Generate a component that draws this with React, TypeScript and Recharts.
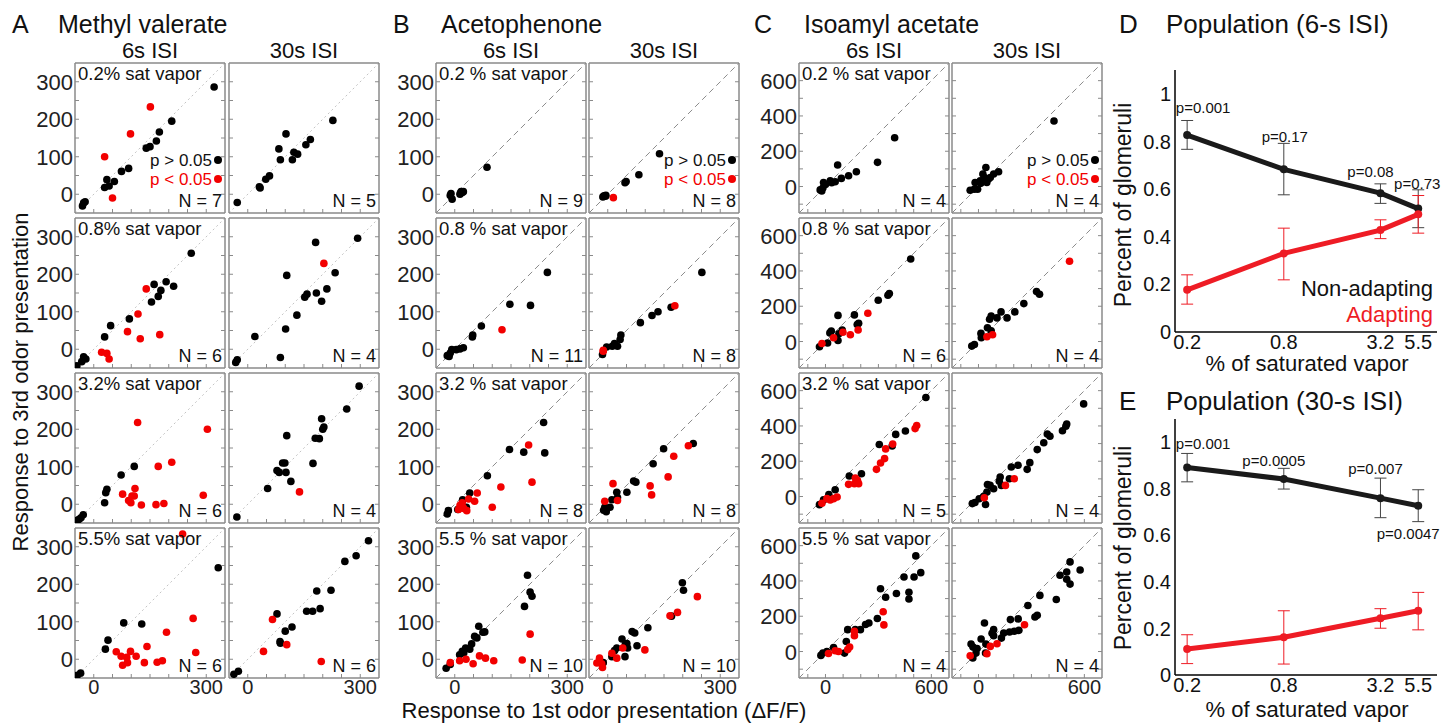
import React from 'react';
import { ScatterChart, Scatter, XAxis, YAxis, ReferenceLine, LineChart, Line, ErrorBar, LabelList } from 'recharts';

type Pt = [number, number];

const FONT = '"Liberation Sans", Arial, Helvetica, sans-serif';
const EDGE = '#8a8a8a';
const RED = '#f20000';
const LINE_RED = '#ee1c25';
const LINE_BLACK = '#1a1a1a';
const BOX = 150;

// ---------- A: Methyl valerate ----------
const mv6_02_ns: Pt[] = [[321, 286], [208, 195], [175, 166], [167, 142], [150, 127], [140, 123], [93, 69], [74, 61], [55, 34], [35, 39], [41, 22], [29, 18], [-23, -20], [-30, -31], [-27, -23]];
const mv6_02_sig: Pt[] = [[151, 233], [98, 161], [29, 100], [50, -10]];
const mv6_08_ns: Pt[] = [[260, 256], [161, 173], [193, 180], [213, 168], [179, 157], [172, 141], [154, 126], [95, 81], [45, 63], [29, 33], [-27, -20], [-21, -26], [-32, -33], [-45, -44]];
const mv6_08_sig: Pt[] = [[140, 161], [118, 94], [90, 47], [124, 28], [176, 39], [21, -8], [35, -11], [41, -26]];
const mv6_32_ns: Pt[] = [[108, 101], [73, 78], [35, 40], [32, 31], [29, 4], [-28, -28], [-34, -36], [-44, -43], [-39, -40]];
const mv6_32_sig: Pt[] = [[117, 218], [303, 200], [172, 101], [208, 112], [77, 27], [110, 42], [108, 22], [102, 22], [93, 10], [99, 4], [127, -2], [166, -1], [187, 2], [292, 24]];
const mv6_55_ns: Pt[] = [[332, 244], [80, 97], [128, 94], [38, 51], [31, 27], [-35, -37], [-44, -43], [-48, -44]];
const mv6_55_sig: Pt[] = [[237, 334], [265, 109], [194, 72], [142, 34], [60, 20], [73, 8], [98, 21], [113, 8], [88, 5], [90, -9], [77, -16], [135, -9], [169, -8], [183, -4], [272, 18]];

const mv30_02_ns: Pt[] = [[-28, -22], [31, 20], [33, 17], [48, 40], [58, 49], [83, 121], [102, 161], [87, 92], [119, 92], [123, 112], [133, 107], [155, 132], [167, 146], [227, 197]];
const mv30_02_sig: Pt[] = [];
const mv30_08_ns: Pt[] = [[293, 296], [181, 285], [233, 204], [211, 161], [183, 150], [197, 128], [158, 147], [152, 139], [104, 197], [131, 91], [101, 54], [87, -22], [19, 34], [-28, -28], [-32, -35]];
const mv30_08_sig: Pt[] = [[203, 229]];
const mv30_32_ns: Pt[] = [[297, 315], [264, 254], [197, 228], [203, 206], [200, 200], [191, 175], [180, 176], [104, 183], [174, 109], [99, 110], [93, 110], [78, 90], [84, 85], [102, 85], [115, 61], [53, 42], [-29, -34]];
const mv30_32_sig: Pt[] = [[138, 33]];
const mv30_55_ns: Pt[] = [[322, 316], [289, 276], [259, 261], [222, 184], [184, 182], [193, 135], [173, 128], [157, 128], [78, 121], [118, 86], [100, 75], [86, 47], [87, 43], [-25, -32], [-37, -40]];
const mv30_55_sig: Pt[] = [[66, 106], [104, 39], [42, 21], [196, -6]];

const mvSixN = [7, 6, 6, 6];
const mvThirtyN = [5, 4, 4, 6];

// ---------- B: Acetophenone ----------
const ap6_02_ns: Pt[] = [[86, 72], [-10, 2], [-7, -13], [17, 7], [23, 7], [14, 0], [15, 3], [-12, -3], [20, 5]];
const ap6_02_sig: Pt[] = [];
const ap6_08_ns: Pt[] = [[247, 205], [147, 120], [202, 117], [71, 62], [48, 38], [47, 33], [23, 4], [14, 1], [4, -1], [-8, -1], [-12, -10], [-20, -17], [-15, -19]];
const ap6_08_sig: Pt[] = [[126, 52]];
const ap6_32_ns: Pt[] = [[237, 218], [146, 146], [184, 139], [240, 137], [87, 76], [40, 30], [21, 12], [31, -8], [8, -14], [-17, -17], [-20, -26]];
const ap6_32_sig: Pt[] = [[197, 158], [206, 59], [123, 46], [60, 30], [53, 8], [37, 14], [100, -8], [20, 4], [14, -3], [10, -14], [32, -17], [24, -11]];
const ap6_55_ns: Pt[] = [[194, 224], [201, 179], [206, 168], [186, 141], [64, 88], [80, 73], [75, 72], [53, 61], [59, 57], [45, 41], [29, 30], [20, 21], [13, 12], [40, 27], [24, 17], [-12, -14], [-23, -24]];
const ap6_55_sig: Pt[] = [[201, 67], [66, 9], [82, 3], [30, 0], [104, -4], [180, -2], [49, -12], [13, -4], [-12, -9]];

const ap30_02_ns: Pt[] = [[138, 108], [83, 52], [49, 34], [-10, -4], [-5, -3], [-13, -7], [-6, -5], [46, 31]];
const ap30_02_sig: Pt[] = [[15, -9]];
const ap30_08_ns: Pt[] = [[251, 205], [169, 112], [134, 100], [118, 90], [87, 71], [35, 38], [33, 26], [18, 15], [26, 8], [12, 8], [-3, 6], [-14, -14]];
const ap30_08_sig: Pt[] = [[179, 116], [-12, -3], [-12, -5]];
const ap30_32_ns: Pt[] = [[228, 162], [149, 148], [121, 108], [69, 62], [75, 59], [51, 32], [24, 32], [11, 12], [26, 18], [6, -8], [-8, -8], [-4, -20], [-11, -16]];
const ap30_32_sig: Pt[] = [[215, 156], [176, 128], [161, 73], [113, 49], [117, 25], [14, 55], [26, 10], [-8, 8]];
const ap30_55_ns: Pt[] = [[199, 204], [202, 184], [170, 115], [107, 84], [65, 74], [72, 70], [78, 36], [38, 54], [51, 42], [47, 40], [53, 30], [18, 23], [24, 30], [46, 7], [11, 7], [-12, -9]];
const ap30_55_sig: Pt[] = [[239, 167], [186, 125], [166, 116], [99, 25], [40, 30], [11, 16], [24, 3], [-22, 3], [-29, -10], [-16, -12], [-14, -22]];

const apSixN = [9, 11, 8, 10];
const apThirtyN = [8, 8, 8, 10];

// ---------- C: Isoamyl acetate ----------
const ia6_02_ns: Pt[] = [[392, 276], [295, 137], [69, 122], [175, 84], [131, 61], [90, 46], [55, 27], [27, 33], [35, 22], [-11, 23], [0, 11], [-15, -9], [-30, -19], [-21, -25]];
const ia6_02_sig: Pt[] = [];
const ia6_08_ns: Pt[] = [[483, 468], [362, 272], [354, 262], [299, 234], [164, 151], [71, 148], [188, 103], [180, 96], [95, 65], [71, 6], [33, 59], [25, 49], [76, 44], [12, -8], [-34, -30]];
const ia6_08_sig: Pt[] = [[240, 160], [185, 65], [141, 38], [99, 53], [46, 21], [-20, -11]];
const ia6_32_ns: Pt[] = [[569, 561], [453, 371], [398, 352], [305, 295], [378, 287], [204, 129], [135, 116], [55, 38], [19, 11], [-11, -19], [-34, -46]];
const ia6_32_sig: Pt[] = [[517, 402], [508, 385], [381, 297], [341, 270], [335, 215], [312, 190], [289, 154], [169, 105], [181, 92], [188, 73], [164, 72], [131, 69], [66, -3], [46, -12], [27, -19], [8, -12], [-20, -38]];
const ia6_55_ns: Pt[] = [[512, 542], [540, 447], [502, 422], [445, 422], [473, 336], [473, 298], [402, 329], [312, 356], [341, 308], [294, 187], [246, 162], [227, 153], [198, 124], [169, 124], [126, 124], [118, 57], [108, -9], [46, 23], [8, 0], [-15, -9], [-26, -22]];
const ia6_55_sig: Pt[] = [[327, 225], [331, 151], [164, 115], [164, 90], [137, 25], [126, 11], [74, 0], [55, 4], [17, -11]];

const ia30_02_ns: Pt[] = [[428, 371], [42, 108], [25, 71], [34, 51], [86, 71], [114, 84], [57, 42], [10, 33], [-19, 23], [13, 18], [47, 23], [-5, -15], [-24, -15], [-47, -21], [67, 51]];
const ia30_02_sig: Pt[] = [];
const ia30_08_ns: Pt[] = [[329, 283], [346, 268], [257, 215], [206, 168], [128, 168], [162, 134], [105, 134], [72, 145], [63, 126], [51, 78], [72, 61], [14, 46], [16, 21], [-23, -17], [-38, -26]];
const ia30_08_sig: Pt[] = [[516, 455], [80, 38], [48, 27]];
const ia30_32_ns: Pt[] = [[596, 525], [500, 411], [495, 398], [476, 373], [405, 342], [390, 354], [370, 305], [333, 266], [291, 192], [276, 154], [224, 177], [186, 167], [175, 101], [123, 110], [118, 87], [130, 63], [86, 44], [51, 68], [66, 63], [48, 25], [29, 0], [4, -13], [40, -45], [-20, -34], [-35, -40]];
const ia30_32_sig: Pt[] = [[203, 101], [153, 63], [33, -7]];
const ia30_55_ns: Pt[] = [[519, 508], [576, 462], [500, 451], [462, 432], [500, 410], [519, 382], [441, 295], [348, 318], [333, 205], [320, 196], [280, 261], [225, 185], [181, 181], [229, 120], [203, 115], [176, 111], [143, 105], [130, 76], [86, 124], [77, 103], [34, 162], [86, 89], [15, 71], [42, 42], [-8, 17], [-31, 25], [-42, 42], [-32, -36], [40, -9], [-14, -9]];
const ia30_55_sig: Pt[] = [[261, 152], [105, 44], [67, 29], [-47, -24], [48, -13]];

const iaSixN = [4, 6, 5, 4];
const iaThirtyN = [4, 4, 4, 4];

const concA = ['0.2% sat vapor', '0.8% sat vapor', '3.2% sat vapor', '5.5% sat vapor'];
const concBC = ['0.2 % sat vapor', '0.8 % sat vapor', '3.2 % sat vapor', '5.5 % sat vapor'];
const abTicks = [0, 50, 100, 150, 200, 250, 300];
const cTicks = [-100, 0, 100, 200, 300, 400, 500, 600];

// ---------- D / E: population ----------
const conc = [0.2, 0.8, 3.2, 5.5];
const d6Non = [0.827, 0.683, 0.583, 0.518];
const d6NonLo = [0.767, 0.576, 0.54, 0.438];
const d6NonHi = [0.888, 0.792, 0.622, 0.597];
const d6Ad = [0.177, 0.33, 0.428, 0.494];
const d6AdLo = [0.117, 0.219, 0.392, 0.415];
const d6AdHi = [0.24, 0.436, 0.471, 0.573];
const d6P = ['p=0.001', 'p=0.17', 'p=0.08', 'p=0.73'];

const e30Non = [0.892, 0.842, 0.76, 0.727];
const e30NonLo = [0.83, 0.799, 0.676, 0.659];
const e30NonHi = [0.952, 0.888, 0.846, 0.796];
const e30Ad = [0.112, 0.162, 0.244, 0.276];
const e30AdLo = [0.049, 0.047, 0.201, 0.194];
const e30AdHi = [0.173, 0.276, 0.285, 0.355];
const e30P = ['p=0.001', 'p=0.0005', 'p=0.007', 'p=0.0047'];

const rowTops = [63, 218, 373, 528];

const blocks = [
  {
    six: 75, thirty: 229, dom: [-50, 350], minor: abTicks, yLab: [0, 100, 200, 300], xLab: [0, 300], dotted: true, conc: concA, legend: 'six',
    sixNs: [mv6_02_ns, mv6_08_ns, mv6_32_ns, mv6_55_ns], sixSig: [mv6_02_sig, mv6_08_sig, mv6_32_sig, mv6_55_sig],
    thNs: [mv30_02_ns, mv30_08_ns, mv30_32_ns, mv30_55_ns], thSig: [mv30_02_sig, mv30_08_sig, mv30_32_sig, mv30_55_sig],
    sixN: mvSixN, thN: mvThirtyN,
  },
  {
    six: 436, thirty: 589, dom: [-50, 350], minor: abTicks, yLab: [0, 100, 200, 300], xLab: [0, 300], dotted: false, conc: concBC, legend: 'thirty',
    sixNs: [ap6_02_ns, ap6_08_ns, ap6_32_ns, ap6_55_ns], sixSig: [ap6_02_sig, ap6_08_sig, ap6_32_sig, ap6_55_sig],
    thNs: [ap30_02_ns, ap30_08_ns, ap30_32_ns, ap30_55_ns], thSig: [ap30_02_sig, ap30_08_sig, ap30_32_sig, ap30_55_sig],
    sixN: apSixN, thN: apThirtyN,
  },
  {
    six: 799, thirty: 952, dom: [-150, 700], minor: cTicks, yLab: [0, 200, 400, 600], xLab: [0, 600], dotted: false, conc: concBC, legend: 'thirty',
    sixNs: [ia6_02_ns, ia6_08_ns, ia6_32_ns, ia6_55_ns], sixSig: [ia6_02_sig, ia6_08_sig, ia6_32_sig, ia6_55_sig],
    thNs: [ia30_02_ns, ia30_08_ns, ia30_32_ns, ia30_55_ns], thSig: [ia30_02_sig, ia30_08_sig, ia30_32_sig, ia30_55_sig],
    sixN: iaSixN, thN: iaThirtyN,
  },
];

const toPts = (a: Pt[]) => a.map(([x, y]) => ({ x, y }));

function BoxTick(props: any) {
  const { x, y, payload, side, labels } = props;
  const v = payload ? payload.value : null;
  const L = 4;
  const show = labels && labels.indexOf(v) >= 0;
  if (side === 'bottom') {
    return (
      <g>
        <line x1={x} y1={y} x2={x} y2={y - L} stroke={EDGE} />
        {show && <text x={x} y={y + 16} textAnchor="middle" fontSize={20} fill="#222" fontFamily={FONT}>{v}</text>}
      </g>
    );
  }
  if (side === 'top') return <line x1={x} y1={y} x2={x} y2={y + L} stroke={EDGE} />;
  if (side === 'left') {
    return (
      <g>
        <line x1={x} y1={y} x2={x + L} y2={y} stroke={EDGE} />
        {show && <text x={x - 2} y={y + 8} textAnchor="end" fontSize={22} fill="#222" fontFamily={FONT}>{v}</text>}
      </g>
    );
  }
  return <line x1={x} y1={y} x2={x - L} y2={y} stroke={EDGE} />;
}

const dotShape = (fill: string) => (p: any) => <circle cx={p.cx} cy={p.cy} r={3.8} fill={fill} />;

function Panel(props: any) {
  const { left, top, ns, sig, dom, minor, yLab, xLab, showY, showX, dotted } = props;
  const lw = showY ? 50 : 1;
  const bh = showX ? 24 : 1;
  const axisLine = { stroke: EDGE, strokeWidth: 1.5 };
  return (
    <div style={{ position: 'absolute', left: left - lw, top: top - 1 }}>
      <ScatterChart width={lw + BOX + 1} height={1 + BOX + bh} margin={{ top: 0, right: 0, bottom: 0, left: 0 }}>
        <XAxis xAxisId="b" dataKey="x" type="number" domain={dom} allowDataOverflow ticks={minor} interval={0}
          orientation="bottom" height={bh} tickSize={0} tickMargin={0} tickLine={false} axisLine={axisLine}
          tick={(p: any) => <BoxTick {...p} side="bottom" labels={showX ? xLab : []} />} />
        <XAxis xAxisId="t" type="number" domain={dom} allowDataOverflow ticks={minor} interval={0}
          orientation="top" height={1} tickSize={0} tickMargin={0} tickLine={false} axisLine={axisLine}
          tick={(p: any) => <BoxTick {...p} side="top" />} />
        <YAxis yAxisId="l" dataKey="y" type="number" domain={dom} allowDataOverflow ticks={minor} interval={0}
          orientation="left" width={lw} tickSize={0} tickMargin={0} tickLine={false} axisLine={axisLine}
          tick={(p: any) => <BoxTick {...p} side="left" labels={showY ? yLab : []} />} />
        <YAxis yAxisId="r" type="number" domain={dom} allowDataOverflow ticks={minor} interval={0}
          orientation="right" width={1} tickSize={0} tickMargin={0} tickLine={false} axisLine={axisLine}
          tick={(p: any) => <BoxTick {...p} side="right" />} />
        <ReferenceLine xAxisId="b" yAxisId="l" ifOverflow="visible"
          segment={[{ x: dom[0], y: dom[0] }, { x: dom[1], y: dom[1] }]}
          stroke={dotted ? '#c4c4c4' : '#8c8c8c'} strokeWidth={1} strokeDasharray={dotted ? '2 3' : '6 4'} />
        <Scatter xAxisId="b" yAxisId="l" data={toPts(ns)} fill="#000" shape={dotShape('#000')} isAnimationActive={false} />
        <Scatter xAxisId="b" yAxisId="l" data={toPts(sig)} fill={RED} shape={dotShape(RED)} isAnimationActive={false} />
      </ScatterChart>
    </div>
  );
}

function PopChart(props: any) {
  const { top, plotH, non, nonLo, nonHi, ad, adLo, adHi, pLabels, pOffsets } = props;
  const rows = conc.map((c, i) => ({
    c,
    non: non[i],
    ad: ad[i],
    nonErr: [non[i] - nonLo[i], nonHi[i] - non[i]],
    adErr: [ad[i] - adLo[i], adHi[i] - ad[i]],
    p: pLabels[i],
  }));
  const tickStyle = { fontSize: 20, fill: '#111', fontFamily: FONT };
  const pContent = (lp: any) => {
    const i = pLabels.indexOf(lp.value);
    const off = pOffsets[i] || [0, -20];
    return (
      <text x={lp.x + off[0]} y={lp.y + off[1]} textAnchor="middle" fontSize={15} fill="#111" fontFamily={FONT}>{lp.value}</text>
    );
  };
  return (
    <div style={{ position: 'absolute', left: 1135, top }}>
      <LineChart width={40 + 262 + 4} height={plotH + 34} data={rows} margin={{ top: 0, right: 4, bottom: 0, left: 0 }}>
        <XAxis dataKey="c" type="number" scale="log" domain={[0.168, 7.2]} allowDataOverflow ticks={conc} interval={0}
          height={34} tickSize={0} tickMargin={3} tickLine={false} axisLine={{ stroke: '#000', strokeWidth: 1.5 }}
          tick={tickStyle} tickFormatter={(v: number) => String(v)} />
        <YAxis type="number" domain={[0, 1.1]} allowDataOverflow ticks={[0, 0.2, 0.4, 0.6, 0.8, 1]} interval={0}
          width={40} tickSize={0} tickMargin={4} tickLine={false} axisLine={{ stroke: '#000', strokeWidth: 1.5 }}
          tick={tickStyle} tickFormatter={(v: number) => String(v)} />
        <Line dataKey="non" type="linear" stroke={LINE_BLACK} strokeWidth={5} isAnimationActive={false}
          dot={{ r: 4, fill: LINE_BLACK, stroke: 'none' }} activeDot={false}>
          <ErrorBar dataKey="nonErr" direction="y" width={6} stroke="#444" strokeWidth={1} />
          <LabelList dataKey="p" content={pContent} />
        </Line>
        <Line dataKey="ad" type="linear" stroke={LINE_RED} strokeWidth={5} isAnimationActive={false}
          dot={{ r: 4, fill: LINE_RED, stroke: 'none' }} activeDot={false}>
          <ErrorBar dataKey="adErr" direction="y" width={6} stroke={LINE_RED} strokeWidth={1} />
        </Line>
      </LineChart>
    </div>
  );
}

export default function App() {
  const panels: any[] = [];
  const notes: any[] = [];
  const txt = (key: string, x: number, y: number, s: string, size: number, extra: any = {}) => (
    <text key={key} x={x} y={y} fontSize={size} fontFamily={FONT} fill="#111" {...extra}>{s}</text>
  );

  blocks.forEach((b, bi) => {
    rowTops.forEach((top, ri) => {
      const common = { top, dom: b.dom, minor: b.minor, yLab: b.yLab, xLab: b.xLab, dotted: b.dotted, showX: ri === 3 };
      panels.push(<Panel key={`p${bi}${ri}s`} {...common} left={b.six} ns={b.sixNs[ri]} sig={b.sixSig[ri]} showY />);
      panels.push(<Panel key={`p${bi}${ri}t`} {...common} left={b.thirty} ns={b.thNs[ri]} sig={b.thSig[ri]} showY={false} />);
      notes.push(txt(`c${bi}${ri}`, b.six + 3, top + 17, b.conc[ri], 18.5));
      notes.push(txt(`ns${bi}${ri}`, b.six + 147, top + 144, `N = ${b.sixN[ri]}`, 18, { textAnchor: 'end' }));
      notes.push(txt(`nt${bi}${ri}`, b.thirty + 147, top + 144, `N = ${b.thN[ri]}`, 18, { textAnchor: 'end' }));
      if (ri === 0) {
        const lx = b.legend === 'six' ? b.six : b.thirty;
        notes.push(txt(`l1${bi}`, lx + 137, top + 103, 'p > 0.05', 17, { textAnchor: 'end' }));
        notes.push(txt(`l2${bi}`, lx + 137, top + 122, 'p < 0.05', 17, { textAnchor: 'end', fill: RED }));
        notes.push(<circle key={`ld1${bi}`} cx={lx + 143} cy={top + 97} r={4} fill="#000" />);
        notes.push(<circle key={`ld2${bi}`} cx={lx + 143} cy={top + 116} r={4} fill={RED} />);
      }
    });
    notes.push(txt(`i6${bi}`, b.six + 75, 58, '6s ISI', 22, { textAnchor: 'middle' }));
    notes.push(txt(`i30${bi}`, b.thirty + 75, 58, '30s ISI', 22, { textAnchor: 'middle' }));
  });

  return (
    <div style={{ position: 'fixed', left: 0, top: 0, width: 1442, height: 723, overflow: 'hidden', background: '#fff', fontFamily: FONT }}>
      {panels}
      <PopChart top={70} plotH={262} non={d6Non} nonLo={d6NonLo} nonHi={d6NonHi} ad={d6Ad} adLo={d6AdLo} adHi={d6AdHi}
        pLabels={d6P} pOffsets={[[16, -22], [1, -27], [-10, -16], [-1, -20]]} />
      <PopChart top={419} plotH={256} non={e30Non} nonLo={e30NonLo} nonHi={e30NonHi} ad={e30Ad} adLo={e30AdLo} adHi={e30AdHi}
        pLabels={e30P} pOffsets={[[16, -18], [-10, -13], [-5, -24], [-10, 33]]} />
      <svg width={1442} height={723} style={{ position: 'absolute', left: 0, top: 0, pointerEvents: 'none' }}>
        {notes}
        {txt('la', 12, 33, 'A', 25)}
        {txt('ta', 58, 33, 'Methyl valerate', 25)}
        {txt('lb', 393, 33, 'B', 25)}
        {txt('tb', 441, 33, 'Acetophenone', 25)}
        {txt('lc', 754, 33, 'C', 25)}
        {txt('tc', 804, 33, 'Isoamyl acetate', 25)}
        {txt('ld', 1119, 33, 'D', 26)}
        {txt('td', 1166, 33, 'Population (6-s ISI)', 26)}
        {txt('le', 1119, 410, 'E', 26)}
        {txt('te', 1166, 410, 'Population (30-s ISI)', 26)}
        {txt('ylab', 0, 0, 'Response to 3rd odor presentation', 22, { textAnchor: 'middle', transform: 'translate(28,382) rotate(-90)' })}
        {txt('xlab', 604, 718.3, 'Response to 1st odor presentation (ΔF/F)', 22, { textAnchor: 'middle' })}
        {txt('dy', 0, 0, 'Percent of glomeruli', 23, { textAnchor: 'middle', transform: 'translate(1131,205) rotate(-90)' })}
        {txt('ey', 0, 0, 'Percent of glomeruli', 23, { textAnchor: 'middle', transform: 'translate(1131,548) rotate(-90)' })}
        {txt('dx', 1307, 371, '% of saturated vapor', 22, { textAnchor: 'middle' })}
        {txt('ex', 1307, 717, '% of saturated vapor', 22, { textAnchor: 'middle' })}
        {txt('nonad', 1433, 296, 'Non-adapting', 22, { textAnchor: 'end' })}
        {txt('adap', 1433, 322, 'Adapting', 22, { textAnchor: 'end', fill: LINE_RED })}
      </svg>
    </div>
  );
}
